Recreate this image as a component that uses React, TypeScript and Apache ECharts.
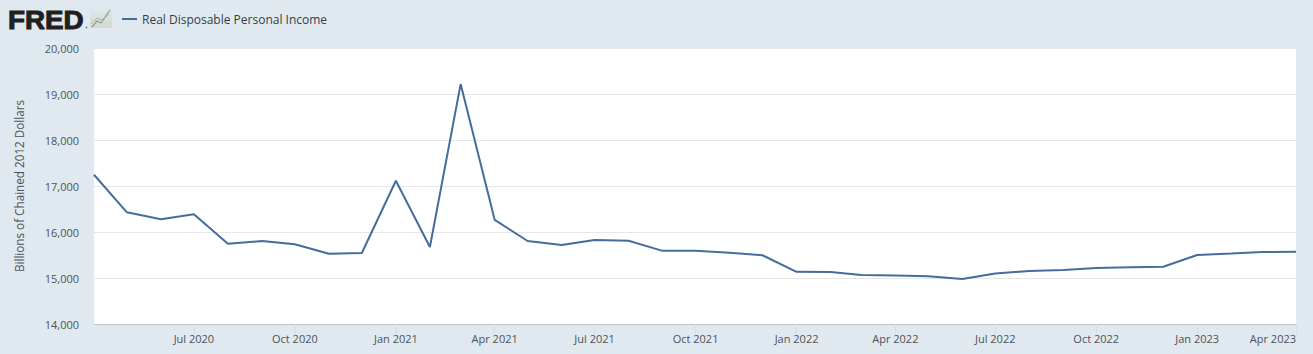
import React, { useEffect, useRef } from "react";
import * as echarts from "echarts";

const seriesName = "Real Disposable Personal Income";
const yAxisTitle = "Billions of Chained 2012 Dollars";
const months = [
  "2020-04-01","2020-05-01","2020-06-01","2020-07-01","2020-08-01","2020-09-01","2020-10-01","2020-11-01","2020-12-01",
  "2021-01-01","2021-02-01","2021-03-01","2021-04-01","2021-05-01","2021-06-01","2021-07-01","2021-08-01","2021-09-01","2021-10-01","2021-11-01","2021-12-01",
  "2022-01-01","2022-02-01","2022-03-01","2022-04-01","2022-05-01","2022-06-01","2022-07-01","2022-08-01","2022-09-01","2022-10-01","2022-11-01","2022-12-01",
  "2023-01-01","2023-02-01","2023-03-01","2023-04-01",
];
const values = [
  17245,16428,16276,16385,15746,15804,15733,15528,15543,
  17115,15675,19215,16265,15805,15715,15825,15810,15590,15590,15550,15495,
  15135,15130,15065,15055,15040,14980,15100,15150,15175,15215,15235,15245,
  15500,15530,15565,15570,
];
const tickDates = [
  "2020-07-01","2020-10-01","2021-01-01","2021-04-01","2021-07-01","2021-10-01",
  "2022-01-01","2022-04-01","2022-07-01","2022-10-01","2023-01-01","2023-04-01",
];
const monthNames = ["Jan","Feb","Mar","Apr","May","Jun","Jul","Aug","Sep","Oct","Nov","Dec"];
const ts = (s: string) => {
  const [y, m, d] = s.split("-").map(Number);
  return Date.UTC(y, m - 1, d);
};
const font = "'Open Sans', sans-serif";
const textColor = "#4d5257";
const lineColor = "#466c9c";

export default function App() {
  const ref = useRef<HTMLDivElement>(null);
  useEffect(() => {
    const chart = echarts.init(ref.current!, undefined, { renderer: "svg" });
    chart.setOption({
      animation: false,
      backgroundColor: "#e1e9f0",
      textStyle: { fontFamily: font },
      grid: { left: 94, right: 17, top: 48, bottom: 30, show: true, backgroundColor: "#ffffff", borderWidth: 0 },
      legend: {
        left: 117,
        top: 8,
        itemWidth: 15,
        itemHeight: 2,
        itemGap: 6,
        icon: "rect",
        textStyle: { fontFamily: font, fontSize: 12, color: "#333d45" },
        data: [seriesName],
      },
      xAxis: {
        type: "value",
        min: ts(months[0]),
        max: ts(months[months.length - 1]),
        axisLine: { show: true, onZero: false, lineStyle: { color: "#c0c6cc", width: 1 } },
        axisTick: { show: true, length: 10, lineStyle: { color: "#d6dde4" }, customValues: tickDates.map(ts) },
        splitLine: { show: false },
        axisLabel: {
          customValues: tickDates.map(ts),
          alignMaxLabel: "right",
          margin: 9,
          fontFamily: font,
          fontSize: 11,
          color: textColor,
          formatter: (v: number) => {
            const d = new Date(v);
            return `${monthNames[d.getUTCMonth()]} ${d.getUTCFullYear()}`;
          },
        },
      },
      yAxis: {
        type: "value",
        min: 14000,
        max: 20000,
        interval: 1000,
        name: yAxisTitle,
        nameLocation: "middle",
        nameGap: 69,
        nameTextStyle: { fontFamily: font, fontSize: 11.7, color: textColor },
        axisLine: { show: false },
        axisTick: { show: false },
        splitLine: { show: true, lineStyle: { color: "#e6e6e6", width: 1 } },
        axisLabel: {
          margin: 15,
          fontFamily: font,
          fontSize: 11,
          color: textColor,
          formatter: (v: number) => v.toLocaleString("en-US"),
        },
      },
      series: [
        {
          name: seriesName,
          type: "line",
          showSymbol: false,
          symbol: "none",
          lineStyle: { color: lineColor, width: 2 },
          itemStyle: { color: lineColor },
          data: months.map((m, i) => [ts(m), values[i]]),
        },
      ],
      graphic: [
        {
          type: "text",
          x: 8,
          y: 6,
          scaleX: 1.05,
          style: {
            text: "FRED",
            fontFamily: "'Liberation Sans', sans-serif",
            fontWeight: "bold",
            fontSize: 26.5,
            fill: "#231f20",
            stroke: "#231f20",
            lineWidth: 1,
          },
        },
        { type: "circle", shape: { cx: 86.5, cy: 27.5, r: 1 }, style: { fill: "#8a8f92" } },
        {
          type: "rect",
          x: 90,
          y: 9,
          shape: { width: 22, height: 19 },
          style: {
            fill: {
              type: "linear", x: 0, y: 0, x2: 0, y2: 1,
              colorStops: [{ offset: 0, color: "#dfe7ec" }, { offset: 1, color: "#d3d8d2" }],
            },
          },
        },
        { type: "polyline", shape: { points: [[92, 27], [97, 21], [101, 23], [110, 10]] }, style: { stroke: "#8fa08a", lineWidth: 1.2, fill: "none" } },
        { type: "polyline", shape: { points: [[91, 24], [97, 18], [102, 20], [109, 14]] }, style: { stroke: "#a9b5a0", lineWidth: 1, fill: "none" } },
      ],
    });
    return () => chart.dispose();
  }, []);
  return <div ref={ref} style={{ position: "fixed", left: 0, top: 0, width: 1313, height: 354 }} />;
}
